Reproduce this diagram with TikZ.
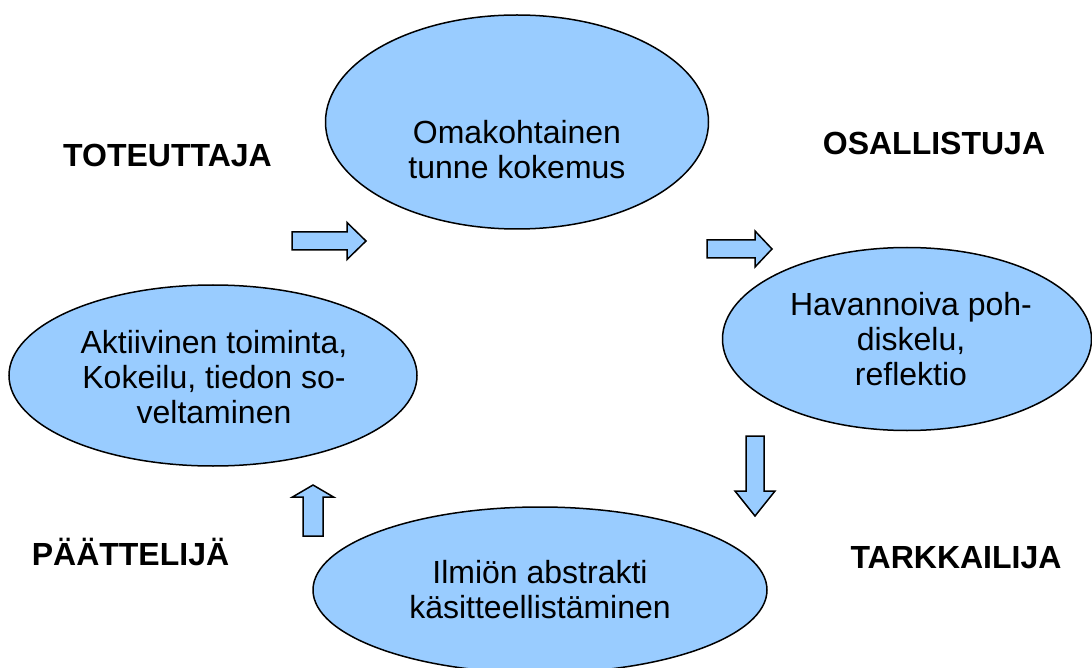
\documentclass[tikz,border=0pt]{standalone}
\usepackage{fontspec}
\setmainfont{Liberation Sans}
\usetikzlibrary{shapes.geometric}
\definecolor{vaaleansin}{HTML}{99CCFF}
\tikzset{
  vaihe/.style={ellipse, draw=black, line width=1.5pt, fill=vaaleansin, inner sep=0pt},
  teksti/.style={align=center, font=\fontsize{32}{35}\selectfont},
  rooli/.style={font=\fontsize{32}{36}\selectfont\bfseries, anchor=base},
  nuoli/.style={draw=black, line width=1.5pt, fill=vaaleansin, line join=miter}
}
\begin{document}
\begin{tikzpicture}[x=1pt,y=-1pt]
\useasboundingbox (0,0) rectangle (1092,668);
% vaiheet
\node[vaihe, minimum width=383pt, minimum height=214pt] (kokemus) at (517,122) {};
\node[vaihe, minimum width=369pt, minimum height=183pt] (pohdinta) at (907,339) {};
\node[vaihe, minimum width=408pt, minimum height=181pt] (toiminta) at (213,375.5) {};
\node[vaihe, minimum width=454pt, minimum height=166pt] (abstrakti) at (540,590) {};
\node[teksti] (kokemusT) at (517,150) {Omakohtainen\\tunne kokemus};
\node[teksti] (pohdintaT) at (911,339) {Havannoiva poh-\\diskelu,\\reflektio};
\node[teksti] (toimintaT) at (214,377) {Aktiivinen toiminta,\\Kokeilu, tiedon so-\\veltaminen};
\node[teksti] (abstraktiT) at (540,590) {Ilmiön abstrakti\\käsitteellistäminen};
% roolit
\node[rooli] (toteuttaja) at (167.5,167) {TOTEUTTAJA};
\node[rooli] (osallistuja) at (934,155) {OSALLISTUJA};
\node[rooli] (paattelija) at (130.5,565) {PÄÄTTELIJÄ};
\node[rooli] (tarkkailija) at (956,568) {TARKKAILIJA};
% nuolet
\draw[nuoli] (292,232) -- (347,232) -- (347,222.5) -- (366,241) -- (347,259.5) -- (347,250) -- (292,250) -- cycle;
\draw[nuoli] (707,240) -- (755,240) -- (755,231) -- (772,249) -- (755,267) -- (755,258) -- (707,258) -- cycle;
\draw[nuoli] (746,436) -- (746,491) -- (735,491) -- (755,516) -- (775,491) -- (764,491) -- (764,436) -- cycle;
\draw[nuoli] (303,536) -- (303,497) -- (292.5,497) -- (313,485) -- (333.5,497) -- (323,497) -- (323,536) -- cycle;
\end{tikzpicture}
\end{document}
